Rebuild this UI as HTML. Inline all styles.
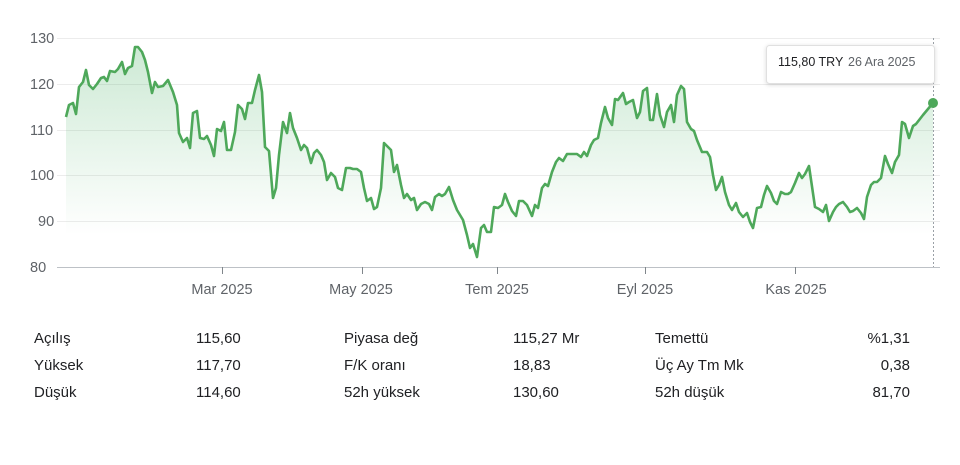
<!DOCTYPE html>
<html><head><meta charset="utf-8"><style>
html,body{margin:0;padding:0;background:#fff;width:960px;height:465px;overflow:hidden;font-family:"Liberation Sans",sans-serif}
svg{position:absolute;left:0;top:0}
.st{position:absolute;font-size:15px;color:#202124;white-space:nowrap}
</style></head><body>
<svg width="960" height="465" viewBox="0 0 960 465">
<defs><linearGradient id="g" gradientUnits="userSpaceOnUse" x1="0" y1="45" x2="0" y2="235"><stop offset="0" stop-color="#34a853" stop-opacity="0.25"/><stop offset="1" stop-color="#34a853" stop-opacity="0"/></linearGradient></defs>
<g stroke="#ececec" stroke-width="1">
<line x1="57" y1="38.5" x2="940" y2="38.5"/><line x1="57" y1="84.5" x2="940" y2="84.5"/><line x1="57" y1="130.5" x2="940" y2="130.5"/><line x1="57" y1="175.5" x2="940" y2="175.5"/><line x1="57" y1="221.5" x2="940" y2="221.5"/>
</g>
<g font-size="14.5" fill="#5f6368">
<text x="30" y="43">130</text><text x="30" y="89">120</text><text x="30" y="135">110</text><text x="30" y="180">100</text><text x="38" y="226">90</text><text x="30" y="272">80</text>
</g>
<path fill="url(#g)" stroke="none" d="M66,117 L69,105 73,103 76,114 79,87 83,82 86,70 89,85 93,89 97,84 101,78 104,77 107,81 110,71 115,72 118,69 122,62 125,74 128,68 132,66 135,47 138,47 142,52 145,60 148,72 152,93 155,82 158,87 163,86 168,80 173,92 177,105 179,133 183,142 187,138 190,148 193,113 197,111 200,138 204,139 207,136 211,145 214,156 217,129 221,131 224,122 227,150 231,150 235,132 238,105 242,109 245,119 248,103 252,103 255,90 259,75 262,92 265,147 269,151 273,198 276,188 279,155 283,122 287,133 290,113 293,128 297,138 301,150 304,145 307,148 311,163 314,153 317,150 321,155 324,162 327,180 331,173 335,177 338,188 342,190 346,168 350,168 353,169 357,169 361,172 364,188 367,201 371,198 374,209 377,207 381,188 384,143 387,146 391,150 394,172 397,165 401,185 404,198 407,194 411,200 414,198 417,210 421,204 425,202 429,204 432,210 435,197 439,194 442,196 445,194 449,187 453,200 457,210 460,215 463,220 467,235 470,248 473,244 477,257 481,228 484,225 487,232 491,232 494,207 498,208 502,205 505,194 508,202 512,211 516,216 519,201 523,201 527,205 532,216 535,205 538,208 542,188 545,184 548,186 552,172 556,162 559,158 563,161 567,154 571,154 577,154 581,157 584,152 587,156 591,145 594,140 598,138 601,123 605,107 608,118 612,125 615,99 618,100 623,93 626,104 629,102 633,100 637,118 640,112 643,91 647,88 650,120 653,120 657,94 660,115 664,127 667,112 671,105 674,122 677,95 681,86 684,89 687,122 691,129 694,131 697,140 702,152 707,152 710,157 713,175 716,190 719,185 722,177 725,192 729,205 732,210 736,203 739,212 743,217 747,213 750,222 753,228 757,208 761,207 764,195 767,186 771,193 774,201 777,204 781,192 785,194 788,194 791,192 795,183 799,173 802,178 805,174 809,166 815,207 819,209 823,212 826,205 829,221 833,212 836,207 839,204 843,202 847,207 850,212 853,211 857,208 861,213 864,219 867,197 871,185 874,182 877,182 881,178 885,156 888,164 892,173 895,162 899,155 902,122 905,124 909,138 913,126 916,124 923,115 933,103 L933,267 L66,267 Z"/>
<polyline fill="none" stroke="#4ea85a" stroke-width="2.6" stroke-linejoin="round" points="66,117 69,105 73,103 76,114 79,87 83,82 86,70 89,85 93,89 97,84 101,78 104,77 107,81 110,71 115,72 118,69 122,62 125,74 128,68 132,66 135,47 138,47 142,52 145,60 148,72 152,93 155,82 158,87 163,86 168,80 173,92 177,105 179,133 183,142 187,138 190,148 193,113 197,111 200,138 204,139 207,136 211,145 214,156 217,129 221,131 224,122 227,150 231,150 235,132 238,105 242,109 245,119 248,103 252,103 255,90 259,75 262,92 265,147 269,151 273,198 276,188 279,155 283,122 287,133 290,113 293,128 297,138 301,150 304,145 307,148 311,163 314,153 317,150 321,155 324,162 327,180 331,173 335,177 338,188 342,190 346,168 350,168 353,169 357,169 361,172 364,188 367,201 371,198 374,209 377,207 381,188 384,143 387,146 391,150 394,172 397,165 401,185 404,198 407,194 411,200 414,198 417,210 421,204 425,202 429,204 432,210 435,197 439,194 442,196 445,194 449,187 453,200 457,210 460,215 463,220 467,235 470,248 473,244 477,257 481,228 484,225 487,232 491,232 494,207 498,208 502,205 505,194 508,202 512,211 516,216 519,201 523,201 527,205 532,216 535,205 538,208 542,188 545,184 548,186 552,172 556,162 559,158 563,161 567,154 571,154 577,154 581,157 584,152 587,156 591,145 594,140 598,138 601,123 605,107 608,118 612,125 615,99 618,100 623,93 626,104 629,102 633,100 637,118 640,112 643,91 647,88 650,120 653,120 657,94 660,115 664,127 667,112 671,105 674,122 677,95 681,86 684,89 687,122 691,129 694,131 697,140 702,152 707,152 710,157 713,175 716,190 719,185 722,177 725,192 729,205 732,210 736,203 739,212 743,217 747,213 750,222 753,228 757,208 761,207 764,195 767,186 771,193 774,201 777,204 781,192 785,194 788,194 791,192 795,183 799,173 802,178 805,174 809,166 815,207 819,209 823,212 826,205 829,221 833,212 836,207 839,204 843,202 847,207 850,212 853,211 857,208 861,213 864,219 867,197 871,185 874,182 877,182 881,178 885,156 888,164 892,173 895,162 899,155 902,122 905,124 909,138 913,126 916,124 923,115 933,103"/>
<line x1="933.5" y1="38" x2="933.5" y2="267" stroke="#9aa0a6" stroke-width="1" stroke-dasharray="2,2"/>
<line x1="57" y1="267.5" x2="940" y2="267.5" stroke="#bdc1c6" stroke-width="1"/>
<g stroke="#80868b" stroke-width="1"><line x1="222.5" y1="267" x2="222.5" y2="274"/><line x1="362.5" y1="267" x2="362.5" y2="274"/><line x1="497.5" y1="267" x2="497.5" y2="274"/><line x1="645.5" y1="267" x2="645.5" y2="274"/><line x1="795.5" y1="267" x2="795.5" y2="274"/></g>
<g font-size="14.5" fill="#5f6368" text-anchor="middle">
<text x="222" y="294">Mar 2025</text><text x="361" y="294">May 2025</text><text x="497" y="294">Tem 2025</text><text x="645" y="294">Eyl 2025</text><text x="796" y="294">Kas 2025</text>
</g>
<circle cx="933" cy="103" r="5" fill="#4ea85a"/>
<rect x="766.5" y="45.5" width="168" height="38" rx="3" fill="#fff" stroke="#e0e0e0" filter="drop-shadow(0 1px 2px rgba(0,0,0,0.15))"/>
<text x="778" y="66" font-size="12.5" fill="#202124">115,80 TRY</text>
<text x="848" y="66" font-size="12.5" fill="#5f6368">26 Ara 2025</text>
</svg>
<div class="st" style="left:34px;top:330px">Açılış</div><div class="st" style="left:196px;top:330px">115,60</div>
<div class="st" style="left:34px;top:357px">Yüksek</div><div class="st" style="left:196px;top:357px">117,70</div>
<div class="st" style="left:34px;top:384px">Düşük</div><div class="st" style="left:196px;top:384px">114,60</div>
<div class="st" style="left:344px;top:330px">Piyasa değ</div><div class="st" style="left:513px;top:330px">115,27 Mr</div>
<div class="st" style="left:344px;top:357px">F/K oranı</div><div class="st" style="left:513px;top:357px">18,83</div>
<div class="st" style="left:344px;top:384px">52h yüksek</div><div class="st" style="left:513px;top:384px">130,60</div>
<div class="st" style="left:655px;top:330px">Temettü</div><div class="st" style="right:50px;top:330px">%1,31</div>
<div class="st" style="left:655px;top:357px">Üç Ay Tm Mk</div><div class="st" style="right:50px;top:357px">0,38</div>
<div class="st" style="left:655px;top:384px">52h düşük</div><div class="st" style="right:50px;top:384px">81,70</div>
</body></html>
